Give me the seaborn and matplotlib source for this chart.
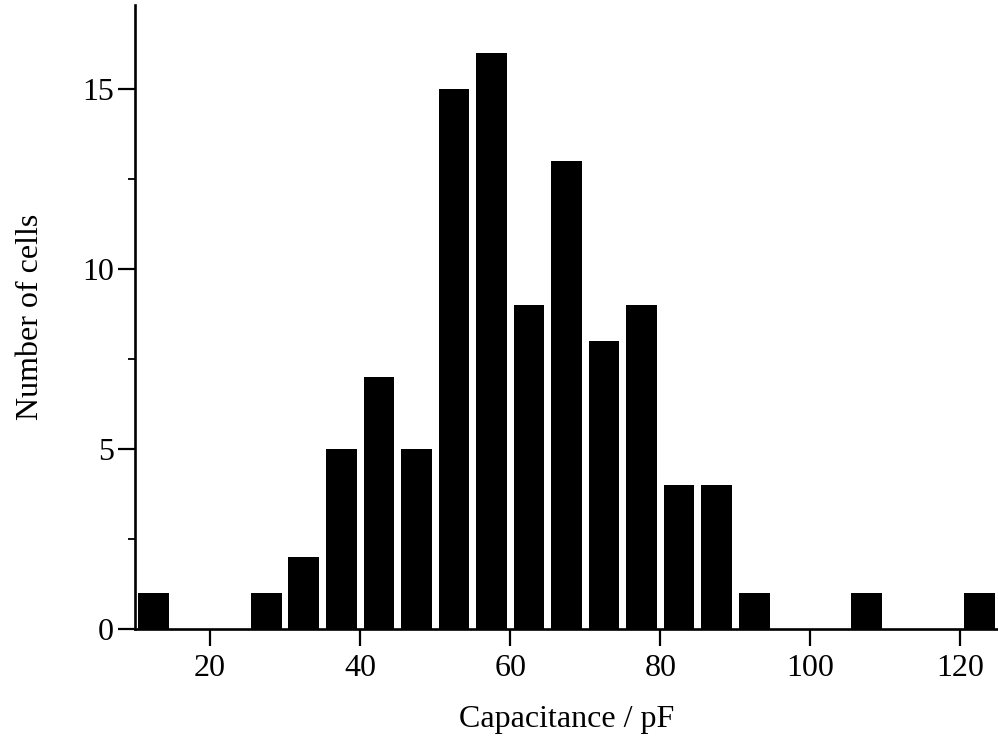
import numpy as np
import pandas as pd
import matplotlib
matplotlib.use("Agg")
import matplotlib.pyplot as plt
import seaborn as sns
from matplotlib.ticker import MultipleLocator

bin_starts = [10, 15, 20, 25, 30, 35, 40, 45, 50, 55, 60, 65, 70, 75, 80, 85, 90, 95, 100, 105, 110, 115, 120]
counts = [1, 0, 0, 1, 2, 5, 7, 5, 15, 16, 9, 13, 8, 9, 4, 4, 1, 0, 0, 1, 0, 0, 1]
x_ticks = [20, 40, 60, 80, 100, 120]
y_ticks = [0, 5, 10, 15]

sns.set_theme(style="ticks")
plt.rcParams['font.family'] = ['Liberation Serif', 'DejaVu Serif']
plt.rcParams.update({"text.color": "black", "axes.labelcolor": "black",
                     "xtick.color": "black", "ytick.color": "black",
                     "axes.edgecolor": "black"})

df = pd.DataFrame({"cap": np.array(bin_starts, dtype=float) + 2.5, "n": counts})

fig = plt.figure(figsize=(9.98, 7.47), dpi=100)
ax = fig.add_axes([0.1353, 0.158, 0.8647, 0.8353])

sns.histplot(data=df, x="cap", weights="n", binwidth=5, binrange=(10, 125),
             shrink=0.82, color="black", alpha=1, edgecolor="black", linewidth=0, ax=ax)

ax.set_xlim(10, 125)
ax.set_ylim(0, 17.33)
ax.set_xticks(x_ticks)
ax.set_yticks(y_ticks)
ax.yaxis.set_minor_locator(MultipleLocator(2.5))
ax.tick_params(axis="both", which="major", labelsize=23, length=12, width=1.6, color="black",
               labelcolor="black", direction="out")
ax.tick_params(axis="x", which="major", pad=6)
ax.tick_params(axis="y", which="major", pad=3)
ax.tick_params(axis="y", which="minor", length=5, width=1.3, direction="out", color="black")
ax.tick_params(axis="x", which="minor", length=0)

for s in ["top", "right"]:
    ax.spines[s].set_visible(False)
for s in ["left", "bottom"]:
    ax.spines[s].set_linewidth(1.9)
    ax.spines[s].set_color("black")

ax.set_xlabel("Capacitance / pF", fontsize=23, labelpad=16, color="black")
ax.set_ylabel("Number of cells", fontsize=23, labelpad=27, color="black")
ax.set_facecolor("white")
fig.patch.set_facecolor("white")

fig.savefig("out.png", dpi=100)
